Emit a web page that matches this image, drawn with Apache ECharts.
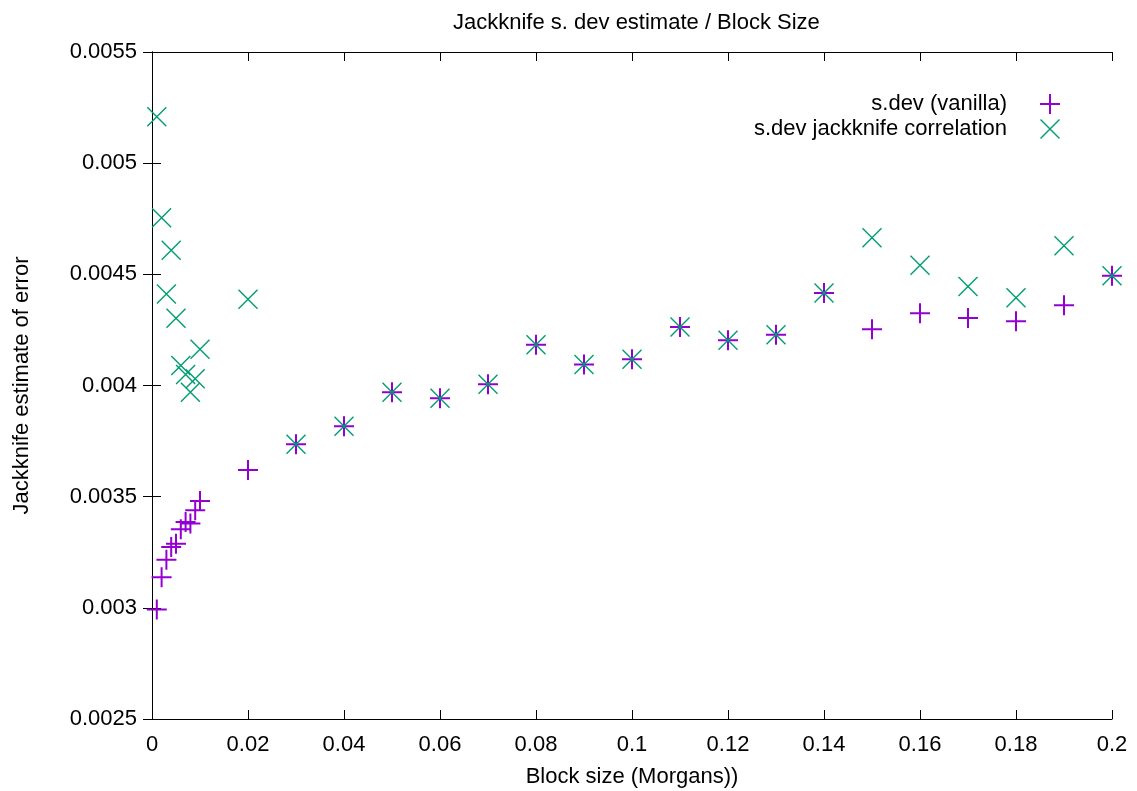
<!DOCTYPE html>
<html>
<head>
<meta charset="utf-8">
<script src="https://cdn.jsdelivr.net/npm/echarts@6/dist/echarts.min.js"></script>
<style>
  html, body { margin: 0; padding: 0; background: #fff; }
  #chart { width: 1137px; height: 791px; }
</style>
</head>
<body>
<div id="chart"></div>
<script>
// block sizes (Morgans)
const blockSizes = [
  0.001, 0.002, 0.003, 0.004, 0.005, 0.006, 0.007, 0.008, 0.009, 0.01,
  0.02, 0.03, 0.04, 0.05, 0.06, 0.07, 0.08, 0.09, 0.1,
  0.11, 0.12, 0.13, 0.14, 0.15, 0.16, 0.17, 0.18, 0.19, 0.2,
];
const sdevVanilla = [
  0.002993, 0.003138, 0.003216, 0.003274, 0.003288, 0.003353, 0.003386, 0.003379, 0.003439, 0.00348,
  0.00362, 0.003736, 0.003817, 0.00397, 0.003943, 0.004006, 0.004183, 0.004094, 0.004118,
  0.004263, 0.004204, 0.004228, 0.004416, 0.004253, 0.004325, 0.004304, 0.004289, 0.004361, 0.004494,
];
const sdevJackknife = [
  0.005209, 0.004755, 0.004412, 0.004608, 0.004303, 0.00409, 0.00405, 0.00397, 0.00403, 0.004163,
  0.004388, 0.003736, 0.003817, 0.00397, 0.003943, 0.004006, 0.004183, 0.004094, 0.004118,
  0.004263, 0.004204, 0.004228, 0.004416, 0.004665, 0.004541, 0.004445, 0.004395, 0.004628, 0.004494,
];

const FONT = 'Liberation Sans';
const FS = 22;
const PLUS = 'path://M9,0H11V20H9ZM0,9H20V11H0Z';
const CROSS = 'path://M0,1L1,0L20,19L19,20ZM19,0L20,1L1,20L0,19Z';

const fmt = (v) => String(+v.toFixed(6));

const pairs = (ys) => blockSizes.map((x, i) => [x, ys[i]]);

const chart = echarts.init(document.getElementById('chart'));

const tick = { show: true, inside: true, length: 9, lineStyle: { color: '#000', width: 1 } };
const line = { show: true, lineStyle: { color: '#000', width: 1 } };

chart.setOption({
  animation: false,
  backgroundColor: '#fff',
  title: {
    text: 'Jackknife s. dev estimate / Block Size',
    left: 448,
    top: 7,
    textStyle: { fontFamily: FONT, fontSize: FS, fontWeight: 'normal', color: '#000' },
  },
  legend: {
    right: 72,
    top: 88,
    orient: 'vertical',
    align: 'right',
    itemWidth: 20,
    itemHeight: 20,
    itemGap: 3,
    textStyle: { fontFamily: FONT, fontSize: FS, color: '#000', padding: [0, 28, 0, 0] },
    data: ['s.dev (vanilla)', 's.dev jackknife correlation'],
  },
  grid: { left: 152, right: 25, top: 52, bottom: 72, containLabel: false, outerBoundsMode: 'none' },
  xAxis: [
    {
      type: 'value',
      min: 0,
      max: 0.2,
      interval: 0.02,
      name: 'Block size (Morgans))',
      nameLocation: 'middle',
      nameGap: 47,
      nameTextStyle: { fontFamily: FONT, fontSize: FS, color: '#000' },
      axisLine: line,
      axisTick: tick,
      splitLine: { show: false },
      axisLabel: { fontFamily: FONT, fontSize: FS, color: '#000', margin: 15, formatter: fmt },
    },
    {
      type: 'value',
      position: 'top',
      min: 0,
      max: 0.2,
      interval: 0.02,
      axisLine: line,
      axisTick: tick,
      splitLine: { show: false },
      axisLabel: { show: false },
    },
  ],
  yAxis: [
    {
      type: 'value',
      min: 0.0025,
      max: 0.0055,
      interval: 0.0005,
      name: 'Jackknife estimate of error',
      nameLocation: 'middle',
      nameGap: 119,
      nameTextStyle: { fontFamily: FONT, fontSize: FS, color: '#000' },
      axisLine: line,
      axisTick: tick,
      splitLine: { show: false },
      axisLabel: { fontFamily: FONT, fontSize: FS, color: '#000', margin: 15, formatter: fmt },
    },
    {
      type: 'value',
      position: 'right',
      min: 0.0025,
      max: 0.0055,
      interval: 0.0005,
      axisLine: line,
      axisTick: tick,
      splitLine: { show: false },
      axisLabel: { show: false },
    },
  ],
  series: [
    {
      name: 's.dev (vanilla)',
      type: 'scatter',
      symbol: PLUS,
      symbolSize: 20,
      itemStyle: { color: '#9400d3', opacity: 1 },
      data: pairs(sdevVanilla),
    },
    {
      name: 's.dev jackknife correlation',
      type: 'scatter',
      symbol: CROSS,
      symbolSize: 20,
      itemStyle: { color: '#009e73', opacity: 1 },
      data: pairs(sdevJackknife),
    },
  ],
});
</script>
</body>
</html>
